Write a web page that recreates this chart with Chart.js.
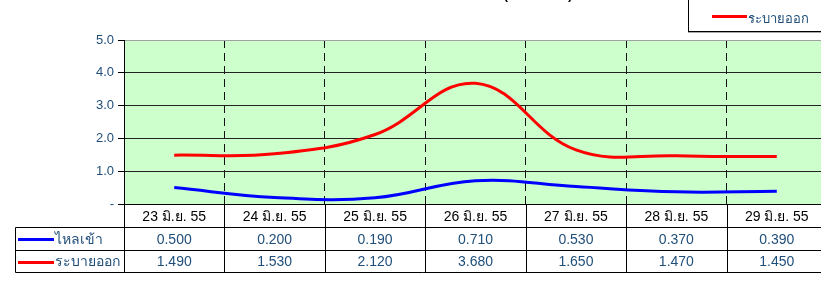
<!DOCTYPE html>
<html>
<head>
<meta charset="utf-8">
<script src="https://cdn.jsdelivr.net/npm/chart.js@4.4.0/dist/chart.umd.min.js"></script>
<style>
  html, body { margin: 0; padding: 0; background: #fff; overflow: hidden; width: 821px; height: 288px; }
  #wrap { position: relative; width: 830px; height: 288px; }
  #title { position: absolute; left: 438px; top: -16px; width: 200px; text-align: center;
           font: bold 13px Arial, "Liberation Sans", sans-serif; color: #000; }
  #legend { position: absolute; left: 688px; top: -20px; width: 160px; height: 50px;
            border: 1px solid #000; background: #fff; box-shadow: 0 1px 0 #aaa; }
  #legend .sw { position: absolute; left: 23px; top: 34px; width: 35px; height: 3px; background: #ff0000; }
  #legend .lb { position: absolute; left: 59px; top: 27px; font: 13px Arial, "Liberation Sans", sans-serif; color: #1f4e79; }
</style>
</head>
<body>
<div id="wrap">
  <canvas id="chart" width="830" height="288"></canvas>
  <div id="title">(ล้าน ลบ.ม.)</div>
  <div id="legend"><div class="sw"></div><div class="lb">ระบายออก</div></div>
</div>
<script>
// data
const dates = ['23 มิ.ย. 55', '24 มิ.ย. 55', '25 มิ.ย. 55', '26 มิ.ย. 55', '27 มิ.ย. 55', '28 มิ.ย. 55', '29 มิ.ย. 55'];
const inflow = [0.500, 0.200, 0.190, 0.710, 0.530, 0.370, 0.390];
const outflow = [1.490, 1.530, 2.120, 3.680, 1.650, 1.470, 1.450];
const seriesNames = ['ไหลเข้า', 'ระบายออก'];
const seriesColors = ['#0000ff', '#ff0000'];

const TXT = '#1f4e79';
const FONT = 'Arial, "Liberation Sans", sans-serif';

// green plot background + data table under the chart
const tablePlugin = {
  id: 'dataTable',
  beforeDraw(chart) {
    const { ctx, chartArea: a } = chart;
    ctx.save();
    ctx.fillStyle = '#ccffcc';
    ctx.fillRect(a.left, a.top, a.right - a.left, a.bottom - a.top);
    ctx.restore();
  },
  afterDraw(chart) {
    const { ctx, chartArea: a } = chart;
    const x = chart.scales.x;
    const rowTop = a.bottom, r1 = 227.5, r2 = 250.5, r3 = 272.5, tableLeft = 15.5;
    const half = (x.getPixelForValue(1) - x.getPixelForValue(0)) / 2;

    ctx.save();
    ctx.strokeStyle = '#000';
    ctx.lineWidth = 1;
    ctx.beginPath();
    const L = Math.round(a.left) + 0.5;
    ctx.moveTo(L, Math.round(rowTop) + 0.5); ctx.lineTo(chart.width, Math.round(rowTop) + 0.5);
    [r1, r2, r3].forEach(y => { ctx.moveTo(tableLeft, y); ctx.lineTo(chart.width, y); });
    ctx.moveTo(tableLeft, r1); ctx.lineTo(tableLeft, r3);
    ctx.moveTo(L, rowTop); ctx.lineTo(L, r3);
    dates.forEach((d, i) => {
      const bx = Math.round(x.getPixelForValue(i) + half) + 0.5;
      ctx.moveTo(bx, rowTop); ctx.lineTo(bx, r3);
    });
    ctx.stroke();

    ctx.textAlign = 'center';
    ctx.textBaseline = 'middle';
    ctx.font = '14px ' + FONT;
    dates.forEach((d, i) => {
      const cx = x.getPixelForValue(i);
      ctx.fillStyle = '#000';
      ctx.fillText(d, cx, (rowTop + r1) / 2 + 1);
      ctx.fillStyle = TXT;
      ctx.fillText(inflow[i].toFixed(3), cx, (r1 + r2) / 2 + 1);
      ctx.fillText(outflow[i].toFixed(3), cx, (r2 + r3) / 2 + 1);
    });

    // row labels with legend swatches
    ctx.textAlign = 'left';
    [(r1 + r2) / 2, (r2 + r3) / 2].forEach((y, k) => {
      ctx.fillStyle = seriesColors[k];
      ctx.fillRect(18, Math.round(y) - 1, 36, 3);
      ctx.fillStyle = TXT;
      ctx.fillText(seriesNames[k], 55, y + 1);
    });
    ctx.restore();
  }
};

new Chart(document.getElementById('chart').getContext('2d'), {
  type: 'line',
  data: {
    labels: dates,
    datasets: [
      { label: seriesNames[0], data: inflow, borderColor: seriesColors[0] },
      { label: seriesNames[1], data: outflow, borderColor: seriesColors[1] }
    ]
  },
  options: {
    responsive: false,
    animation: false,
    layout: { padding: { top: 40, right: 3, left: 0, bottom: 0 } },
    elements: {
      line: { borderWidth: 3, tension: 0.4, fill: false },
      point: { radius: 0 }
    },
    plugins: { legend: { display: false }, tooltip: { enabled: false } },
    scales: {
      x: {
        offset: true,
        afterFit: s => { s.height = 84; },
        ticks: { display: false },
        grid: { offset: true, color: '#111', drawTicks: false, lineWidth: 1 },
        border: { display: false, dash: [8, 5] }
      },
      y: {
        min: 0, max: 5,
        afterFit: s => { s.width = 124; },
        ticks: {
          stepSize: 1, color: TXT, padding: 4,
          font: { family: FONT, size: 13 },
          callback: v => v === 0 ? '-' : v.toFixed(1)
        },
        grid: {
          color: c => c.tick && c.tick.value === 5 ? '#a0a0a0' : '#222',
          tickColor: '#000', tickLength: 6
        },
        border: { display: true, color: '#000', width: 1 }
      }
    }
  },
  plugins: [tablePlugin]
});
</script>
</body>
</html>
